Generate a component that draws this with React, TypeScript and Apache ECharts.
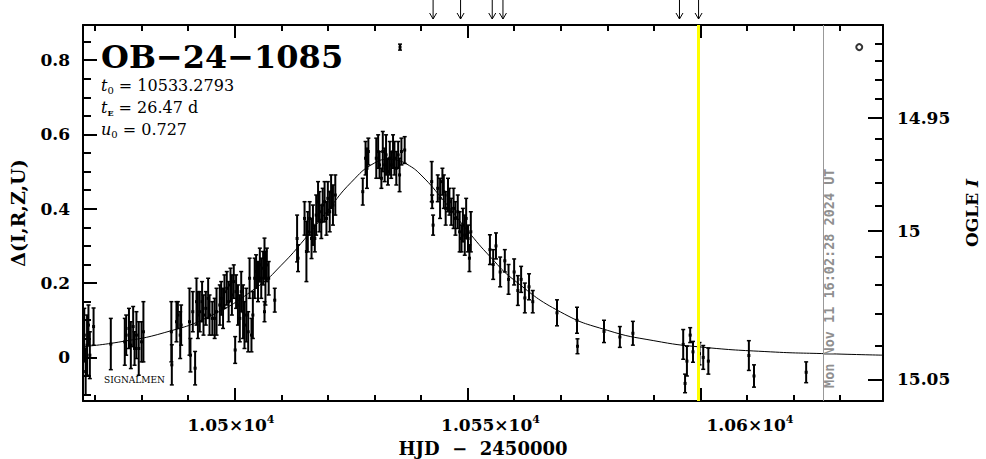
import React, { useEffect, useRef } from "react";
import * as echarts from "echarts";

// ---------- data ----------
const obsT = [
  10467.7, 10468.0, 10468.3, 10468.6, 10468.9, 10469.7, 10473.4,
  10476.4, 10476.7, 10477.3, 10477.7, 10478.2, 10478.5, 10478.9, 10479.4, 10480.0, 10480.4,
  10486.4, 10486.5, 10487.5, 10487.8, 10488.3, 10488.5,
  10490.3, 10490.5, 10491.0, 10491.5, 10491.8, 10492.1, 10492.5, 10493.0, 10493.3, 10493.8,
  10494.3, 10494.6, 10495.2, 10495.7, 10496.1, 10496.8, 10497.1, 10497.5,
  10497.8, 10498.3, 10498.7, 10499.1, 10499.4, 10499.8, 10500.1, 10500.3, 10500.7, 10501.1,
  10501.4, 10501.8, 10502.1, 10502.5, 10502.9, 10503.2, 10503.6, 10503.9, 10504.3, 10504.6,
  10505.0, 10505.4, 10505.7, 10506.1, 10506.4, 10506.6, 10506.9, 10507.3, 10506.4, 10508.6,
  10513.4, 10513.6, 10515.0, 10515.4, 10515.7, 10516.1, 10516.5, 10516.8, 10517.2, 10517.5,
  10517.9, 10518.2, 10518.6, 10518.9, 10519.3, 10519.7, 10520.0, 10520.4, 10520.7, 10521.1, 10521.6,
  10527.5, 10528.1, 10528.4, 10528.7, 10530.4, 10530.8, 10531.1, 10531.5, 10531.8, 10532.2,
  10532.5, 10532.9, 10533.3, 10533.6, 10534.0, 10534.3, 10534.7, 10535.1, 10535.4, 10535.8, 10536.5,
  10535.5,
  10542.3, 10542.4, 10542.6, 10543.6, 10544.1, 10544.6, 10544.9, 10545.3, 10545.8, 10546.1,
  10546.5, 10547.0, 10547.4, 10547.9, 10548.3, 10548.7, 10549.0, 10549.4, 10549.7, 10550.1,
  10550.4, 10550.7,
  10554.8, 10555.5, 10556.1, 10557.0, 10558.0, 10558.8, 10560.0, 10560.8, 10561.5, 10562.3,
  10563.2, 10564.0,
  10569.2, 10573.5, 10573.6, 10579.3, 10582.7, 10585.5,
  10596.3, 10596.7, 10597.1, 10597.8, 10598.4, 10599.8, 10600.6, 10601.7,
  10610.4, 10611.5, 10622.7,
];
const obsD = [
  0.060, -0.038, 0.033, 0.087, 0.006, 0.083, 0.036,
  0.042, 0.060, 0.078, 0.033, 0.083, 0.024, 0.060, 0.024, 0.042, 0.069,
  0.069, -0.020, 0.096, 0.114, 0.060, 0.087,
  0.096, 0.006, 0.123, -0.029, 0.150, 0.114, 0.123, 0.150, 0.114, 0.132,
  0.159, 0.114, 0.105, 0.105, 0.123, 0.141, 0.159, 0.132,
  0.177, 0.186, 0.150, 0.195, 0.168, 0.204, 0.020, 0.177, 0.141, 0.105,
  0.177, 0.123, 0.087, 0.114, 0.069, 0.213, 0.060, 0.114, 0.213, 0.231,
  0.204, 0.249, 0.213, 0.240, 0.267, 0.213, 0.249, 0.213, 0.123, 0.154,
  0.320, 0.267, 0.374, 0.285, 0.338, 0.374, 0.320, 0.356, 0.320, 0.383,
  0.419, 0.392, 0.365, 0.410, 0.419, 0.374, 0.428, 0.392, 0.446, 0.410, 0.437,
  0.446, 0.536, 0.509, 0.554, 0.536, 0.554, 0.518, 0.482, 0.554, 0.518,
  0.545, 0.500, 0.536, 0.518, 0.554, 0.536, 0.509, 0.545, 0.491, 0.554, 0.558,
  0.835,
  0.473, 0.419, 0.356, 0.455, 0.428, 0.473, 0.446, 0.401, 0.437, 0.419,
  0.392, 0.401, 0.374, 0.392, 0.338, 0.320, 0.356, 0.329, 0.374, 0.320,
  0.267, 0.338,
  0.290, 0.250, 0.300, 0.230, 0.260, 0.210, 0.230, 0.180, 0.210, 0.160,
  0.190, 0.150,
  0.120, 0.100, 0.030, 0.070, 0.055, 0.065,
  0.035, -0.070, -0.010, 0.060, 0.015, 0.010, 0.000, -0.010,
  0.005, -0.050, -0.040,
];
const obsE = [
  0.072, 0.063, 0.081, 0.054, 0.063, 0.050, 0.069,
  0.063, 0.054, 0.054, 0.063, 0.054, 0.045, 0.063, 0.072, 0.054, 0.081,
  0.081, 0.054, 0.054, 0.036, 0.063, 0.054,
  0.090, 0.045, 0.054, 0.045, 0.063, 0.063, 0.054, 0.054, 0.054, 0.045,
  0.054, 0.054, 0.045, 0.054, 0.063, 0.054, 0.045, 0.054,
  0.045, 0.045, 0.054, 0.045, 0.054, 0.045, 0.036, 0.045, 0.054, 0.063,
  0.054, 0.072, 0.063, 0.072, 0.054, 0.054, 0.045, 0.063, 0.054, 0.045,
  0.054, 0.045, 0.054, 0.045, 0.054, 0.072, 0.045, 0.045, 0.027, 0.032,
  0.063, 0.036, 0.045, 0.081, 0.054, 0.045, 0.054, 0.054, 0.036, 0.054,
  0.054, 0.054, 0.045, 0.045, 0.054, 0.045, 0.045, 0.054, 0.045, 0.054, 0.054,
  0.036, 0.045, 0.054, 0.036, 0.054, 0.045, 0.036, 0.027, 0.054, 0.045,
  0.054, 0.036, 0.045, 0.036, 0.045, 0.045, 0.045, 0.036, 0.045, 0.036, 0.036,
  0.008,
  0.054, 0.018, 0.027, 0.036, 0.054, 0.036, 0.045, 0.045, 0.045, 0.036,
  0.036, 0.054, 0.045, 0.045, 0.054, 0.036, 0.045, 0.054, 0.054, 0.036,
  0.036, 0.054,
  0.040, 0.040, 0.035, 0.040, 0.030, 0.040, 0.035, 0.040, 0.035, 0.040,
  0.035, 0.030,
  0.035, 0.035, 0.020, 0.030, 0.028, 0.032,
  0.040, 0.025, 0.040, 0.020, 0.028, 0.030, 0.032, 0.035,
  0.040, 0.030, 0.028,
];

// model curve values
const modelT = [
  10467.4, 10475, 10485, 10495, 10505, 10510, 10515, 10520, 10525, 10530, 10533.3,
  10535, 10537, 10540, 10545, 10550, 10555, 10560, 10570, 10580, 10590, 10600, 10615, 10627, 10639.2,
];
const modelD = [
  0.029, 0.041, 0.067, 0.113, 0.191, 0.248, 0.318, 0.396, 0.471, 0.523, 0.533,
  0.530, 0.520, 0.491, 0.420, 0.341, 0.269, 0.208, 0.122, 0.073, 0.045, 0.028, 0.015, 0.010, 0.006,
];

const ringT = [10634.1];
const ringD = [0.835];

const arrowT = [10542.6, 10548.5, 10555.3, 10557.6, 10595.5, 10599.6];
const yellowT = 10599.6;
const nowT = 10626.3;
const nowText = "Mon Nov 11 16:02:28 2024 UT";

// axes
const X_MIN = 10467.43;
const X_MAX = 10639.2;
const X_LBL_MIN = 10471.48;
const X_LBL_MAX = 10625.63;
const Y_MIN = -0.1173;
const Y_MAX = 0.8945;
const xMinorTicks = [
  10470, 10480, 10490, 10500, 10510, 10520, 10530, 10540, 10550, 10560, 10570,
  10580, 10590, 10600, 10610, 10620, 10630,
];
const xMajorTicks = [10500, 10550, 10600];
const xLabelValues = [10500, 10550, 10600];
const yMinorTicks = [
  -0.1, -0.05, 0, 0.05, 0.1, 0.15, 0.2, 0.25, 0.3, 0.35, 0.4, 0.45, 0.5, 0.55,
  0.6, 0.65, 0.7, 0.75, 0.8, 0.85,
];
const yMajorTicks = [0, 0.2, 0.4, 0.6, 0.8];
const magMinorTicks = [
  14.91, 14.92, 14.93, 14.94, 14.95, 14.96, 14.97, 14.98, 14.99, 15.0, 15.01,
  15.02, 15.03, 15.04, 15.05,
];
const magMajorTicks = [14.95, 15.0, 15.05];
const magLabels = ["14.95", "15", "15.05"];
// baseline magnitude and source flux fraction
const I0 = 15.0436;
const FS = 0.1112;

function magToDelta(m: number): number {
  const f = Math.pow(10, -0.4 * (m - I0));
  const a = (f - (1 - FS)) / FS;
  return 2.5 * Math.log10(a);
}

const SERIF = "DejaVu Serif";
const GRID_W = 800;
const GRID_H = 376;

export default function App() {
  const ref = useRef<HTMLDivElement>(null);

  useEffect(() => {
    if (!ref.current) return;
    const chart = echarts.init(ref.current, undefined, { renderer: "svg" });

    const labelFont = {
      fontFamily: SERIF,
      fontSize: 17,
      fontWeight: "bold" as const,
      color: "#000",
    };
    const line2 = { color: "#000", width: 2 };

    const magMinorD = magMinorTicks.map(magToDelta);
    const magMajorD = magMajorTicks.map(magToDelta);

    const obs = obsT.map((t, i) => [t, obsD[i], obsE[i]]);

    // tick lengths expressed in axis units (pixels per unit from the grid size)
    const dayPerPx = (X_MAX - X_MIN) / GRID_W;
    const deltaPerPx = (Y_MAX - Y_MIN) / GRID_H;
    const tickStyle = { color: "#000", width: 2, type: "solid" };
    const tickSegs: any[] = [];
    const xSeg = (v: number, len: number) => {
      const dy = len * deltaPerPx;
      tickSegs.push([{ coord: [v, Y_MIN], lineStyle: tickStyle }, { coord: [v, Y_MIN + dy] }]);
      tickSegs.push([{ coord: [v, Y_MAX], lineStyle: tickStyle }, { coord: [v, Y_MAX - dy] }]);
    };
    const lSeg = (v: number, len: number) => {
      tickSegs.push([{ coord: [X_MIN, v], lineStyle: tickStyle }, { coord: [X_MIN + len * dayPerPx, v] }]);
    };
    const rSeg = (v: number, len: number) => {
      tickSegs.push([{ coord: [X_MAX, v], lineStyle: tickStyle }, { coord: [X_MAX - len * dayPerPx, v] }]);
    };
    xMinorTicks.forEach((v) => xSeg(v, 6));
    xMajorTicks.forEach((v) => xSeg(v, 13));
    yMinorTicks.forEach((v) => lSeg(v, 8));
    yMajorTicks.forEach((v) => lSeg(v, 14));
    magMinorD.forEach((v) => rSeg(v, 8));
    magMajorD.forEach((v) => rSeg(v, 15));

    const option: any = {
      animation: false,
      backgroundColor: "#fff",
      grid: {
        left: 83,
        top: 25,
        width: GRID_W,
        height: GRID_H,
        containLabel: false,
        outerBoundsMode: "none",
      },
      xAxis: [
        {
          type: "value",
          min: X_MIN,
          max: X_MAX,
          position: "bottom",
          splitLine: { show: false },
          axisLabel: { show: false },
          axisTick: { show: false },
          axisLine: { show: true, onZero: false, lineStyle: line2 },
        },
        {
          type: "value",
          min: X_MIN,
          max: X_MAX,
          position: "top",
          splitLine: { show: false },
          axisLabel: { show: false },
          axisTick: { show: false },
          axisLine: { show: true, onZero: false, lineStyle: line2 },
        },
        {
          type: "value",
          min: X_LBL_MIN,
          max: X_LBL_MAX,
          position: "bottom",
          splitLine: { show: false },
          axisLine: { show: false, onZero: false },
          axisTick: { show: false },
          axisLabel: {
            show: true,
            customValues: xLabelValues,
            margin: 13,
            formatter: (v: number) => `{n|${+(v / 1e4).toFixed(3)}×10}{sup|4}`,
            rich: {
              n: { ...labelFont, lineHeight: 22 },
              sup: { ...labelFont, fontSize: 11, verticalAlign: "top", lineHeight: 12 },
            },
          },
          name: "HJD  −  2450000",
          nameLocation: "middle",
          nameGap: 38,
          nameTextStyle: { ...labelFont, fontSize: 18 },
        },
      ],
      yAxis: [
        {
          type: "value",
          min: Y_MIN,
          max: Y_MAX,
          position: "left",
          splitLine: { show: false },
          axisLine: { show: true, onZero: false, lineStyle: line2 },
          axisTick: { show: false },
          axisLabel: {
            show: true,
            customValues: yMajorTicks,
            margin: 13,
            formatter: (v: number) => (Math.abs(v) < 1e-9 ? "0" : v.toFixed(1)),
            ...labelFont,
          },
          name: "Δ(I,R,Z,U)",
          nameLocation: "middle",
          nameRotate: 90,
          nameGap: 56,
          nameTextStyle: { ...labelFont, fontSize: 19 },
        },
        {
          type: "value",
          min: Y_MIN,
          max: Y_MAX,
          position: "right",
          splitLine: { show: false },
          axisLine: { show: true, onZero: false, lineStyle: line2 },
          axisTick: { show: false },
          axisLabel: {
            show: true,
            customValues: magMajorD,
            margin: 14,
            formatter: (v: number) => {
              let best = 0;
              for (let i = 1; i < magMajorD.length; i++) {
                if (Math.abs(magMajorD[i] - v) < Math.abs(magMajorD[best] - v)) best = i;
              }
              return magLabels[best];
            },
            ...labelFont,
          },
          name: "OGLE {it|I}",
          nameLocation: "middle",
          nameRotate: 90,
          nameGap: 80,
          nameTextStyle: {
            ...labelFont,
            fontSize: 17,
            rich: { it: { ...labelFont, fontSize: 17, fontStyle: "italic" } },
          },
        },
      ],
      series: [
        {
          type: "line",
          xAxisIndex: 0,
          yAxisIndex: 0,
          data: modelT.map((t, i) => [t, modelD[i]]),
          smooth: true,
          symbol: "none",
          lineStyle: { color: "#000", width: 1 },
          z: 2,
          markLine: {
            symbol: "none",
            silent: true,
            label: { show: false },
            data: [
              { xAxis: yellowT, lineStyle: { color: "#ffff00", width: 3, type: "solid" } },
              { xAxis: nowT, lineStyle: { color: "#999999", width: 1, type: "solid" } },
            ],
          },
        },
        {
          // frame tick marks as short mark-line segments
          type: "line",
          xAxisIndex: 0,
          yAxisIndex: 0,
          data: [],
          symbol: "none",
          clip: false,
          z: 5,
          markLine: {
            symbol: ["none", "none"],
            silent: true,
            animation: false,
            label: { show: false },
            emphasis: { disabled: true },
            lineStyle: { color: "#000", width: 2, type: "solid" },
            data: tickSegs,
          },
        },
        {
          type: "custom",
          xAxisIndex: 0,
          yAxisIndex: 0,
          clip: true,
          z: 3,
          data: obs,
          renderItem: (_p: any, api: any) => {
            const t = api.value(0);
            const d = api.value(1);
            const e = api.value(2);
            const c = api.coord([t, d]);
            const hi = api.coord([t, d + e]);
            const lo = api.coord([t, d - e]);
            const x = c[0];
            return {
              type: "group",
              children: [
                { type: "line", shape: { x1: x, y1: hi[1], x2: x, y2: lo[1] }, style: { stroke: "#000", lineWidth: 2 } },
                { type: "line", shape: { x1: x - 2, y1: hi[1], x2: x + 2, y2: hi[1] }, style: { stroke: "#000", lineWidth: 1.5 } },
                { type: "line", shape: { x1: x - 2, y1: lo[1], x2: x + 2, y2: lo[1] }, style: { stroke: "#000", lineWidth: 1.5 } },
                { type: "rect", shape: { x: x - 1.5, y: c[1] - 1.5, width: 3, height: 3 }, style: { fill: "#000" } },
              ],
            };
          },
        },
        {
          type: "scatter",
          xAxisIndex: 0,
          yAxisIndex: 0,
          data: ringT.map((t, i) => [t, ringD[i]]),
          symbol: "circle",
          symbolSize: 6,
          itemStyle: { color: "#fff", borderColor: "#000", borderWidth: 2 },
          z: 4,
        },
        {
          type: "custom",
          xAxisIndex: 0,
          yAxisIndex: 0,
          clip: false,
          z: 4,
          data: arrowT.map((t) => [t, Y_MAX]),
          renderItem: (_p: any, api: any) => {
            const p = api.coord([api.value(0), Y_MAX]);
            const x = p[0];
            const tip = p[1] - 6;
            return {
              type: "group",
              children: [
                { type: "line", shape: { x1: x, y1: p[1] - 26, x2: x, y2: tip }, style: { stroke: "#000", lineWidth: 1 } },
                {
                  type: "polyline",
                  shape: { points: [[x - 3.5, tip - 6], [x, tip], [x + 3.5, tip - 6]] },
                  style: { stroke: "#000", lineWidth: 1, fill: "none" },
                },
              ],
            };
          },
        },
        {
          type: "custom",
          xAxisIndex: 0,
          yAxisIndex: 0,
          clip: false,
          z: 4,
          data: [[nowT, Y_MIN]],
          renderItem: (_p: any, api: any) => {
            const p = api.coord([api.value(0), Y_MIN]);
            return {
              type: "text",
              x: p[0] + 6.5,
              y: p[1] - 13,
              rotation: Math.PI / 2,
              style: {
                text: nowText,
                x: 0,
                y: 0,
                align: "left",
                verticalAlign: "middle",
                fill: "#8f8f8f",
                fontFamily: "DejaVu Sans Mono",
                fontWeight: "bold",
                fontSize: 13.5,
              },
            };
          },
        },
      ],
      graphic: [
        {
          type: "text",
          x: 101,
          y: 57,
          style: {
            text: "OB−24−1085",
            fontFamily: SERIF,
            fontWeight: "bold",
            fontSize: 32,
            fill: "#000",
            align: "left",
            verticalAlign: "middle",
          },
        },
        ...[
          "{it|t}{sub|0} = 10533.2793",
          "{it|t}{subE|E} = 26.47 d",
          "{it|u}{sub|0} = 0.727",
        ].map((txt, i) => ({
          type: "text",
          x: 101,
          y: 85 + i * 22,
          style: {
            text: txt,
            align: "left",
            verticalAlign: "middle",
            fontFamily: SERIF,
            fontSize: 16,
            fill: "#000",
            rich: {
              it: { fontFamily: SERIF, fontSize: 16, fontStyle: "italic", lineHeight: 20 },
              sub: { fontFamily: SERIF, fontSize: 10, verticalAlign: "bottom", lineHeight: 11 },
              subE: { fontFamily: SERIF, fontSize: 8, fontWeight: "bold", verticalAlign: "bottom", lineHeight: 11 },
            },
          },
        })),
        {
          type: "text",
          x: 104,
          y: 380,
          style: {
            text: "SIGNALMEN",
            fontFamily: SERIF,
            fontSize: 9,
            fill: "#000",
            align: "left",
            verticalAlign: "middle",
          },
        },
      ],
    };

    chart.setOption(option);
    return () => chart.dispose();
  }, []);

  return (
    <div
      ref={ref}
      style={{ position: "fixed", left: 0, top: 0, width: 986, height: 459, background: "#fff" }}
    />
  );
}
